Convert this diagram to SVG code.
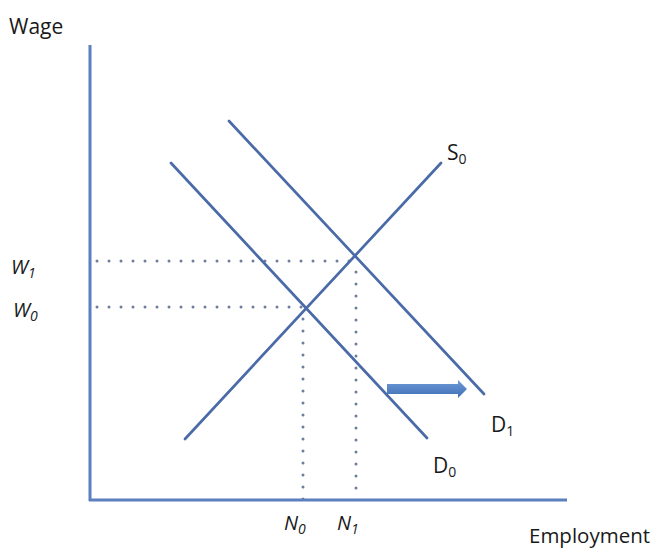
<svg xmlns="http://www.w3.org/2000/svg" width="659" height="550" viewBox="0 0 659 550">
<style>
.ax{stroke:#5b7fbf;stroke-width:3;fill:none}
.cv{stroke:#4a6aa8;stroke-width:2.7;fill:none;stroke-linecap:round}
.dot{stroke:#6f7d9c;stroke-width:3;fill:none;stroke-dasharray:0 12;stroke-linecap:round}
.lbl{font-family:"Open Sans","Liberation Sans",sans-serif;font-size:21px;fill:#1a1a1a}
.it{font-family:"Open Sans","Liberation Sans",sans-serif;font-size:20px;font-style:italic;fill:#1a1a1a}
.sub{font-size:14px}
</style>
<defs>
<linearGradient id="ag" x1="0" y1="0" x2="0" y2="1">
<stop offset="0" stop-color="#6d9ad8"/>
<stop offset="1" stop-color="#3f6fb5"/>
</linearGradient>
</defs>
<g id="connectors">
<line class="dot" x1="97" y1="261" x2="355" y2="261"/>
<line class="dot" x1="97" y1="307" x2="303" y2="307"/>
<line class="dot" x1="356" y1="272" x2="356" y2="500"/>
<line class="dot" x1="303" y1="319" x2="303" y2="500"/>
</g>
<g id="axes">
<line class="ax" x1="90" y1="45" x2="90" y2="501"/>
<line class="ax" x1="89" y1="500" x2="567" y2="500"/>
</g>
<g id="S0"><line class="cv" x1="185" y1="439" x2="441" y2="163"/></g>
<g id="D0"><line class="cv" x1="171" y1="163" x2="427" y2="438"/></g>
<g id="D1"><line class="cv" x1="229" y1="121" x2="484" y2="394"/></g>
<g id="arrow"><path d="M387 384 L458 384 L458 380 L467 389 L458 398 L458 394 L387 394 Z" fill="url(#ag)"/></g>
<g id="labels">
<text class="lbl" x="9" y="34">Wage</text>
<text class="lbl" x="529" y="543" style="font-size:20.5px">Employment</text>
<text class="it" x="11" y="274">W<tspan class="sub" dy="4">1</tspan></text>
<text class="it" x="13" y="317">W<tspan class="sub" dy="4">0</tspan></text>
<text class="it" x="284" y="530">N<tspan class="sub" dy="4">0</tspan></text>
<text class="it" x="337" y="530">N<tspan class="sub" dy="4">1</tspan></text>
<text class="lbl" x="447" y="160">S<tspan class="sub" dy="4">0</tspan></text>
<text class="lbl" x="491" y="432">D<tspan class="sub" dy="4">1</tspan></text>
<text class="lbl" x="433" y="473">D<tspan class="sub" dy="4">0</tspan></text>
</g>
</svg>
